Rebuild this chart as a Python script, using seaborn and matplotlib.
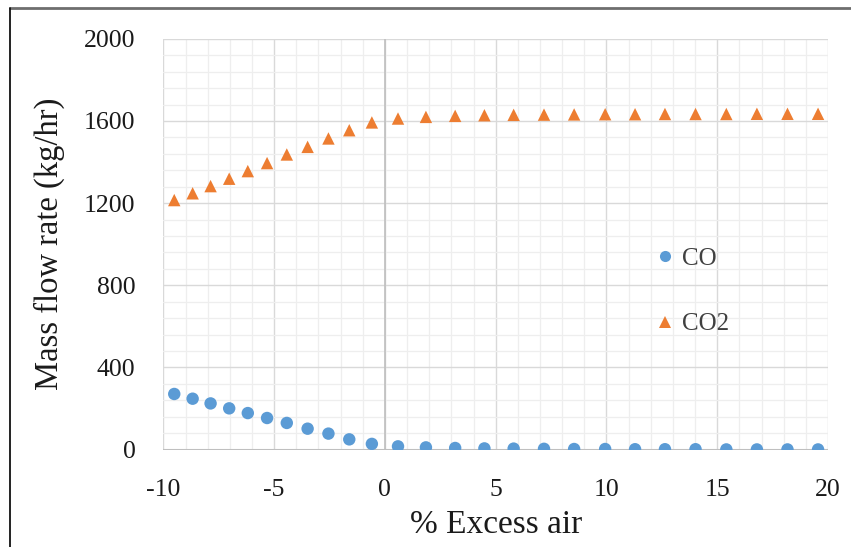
import matplotlib
matplotlib.use("Agg")
import matplotlib.pyplot as plt
from matplotlib.lines import Line2D
from matplotlib.ticker import MultipleLocator
import pandas as pd
import seaborn as sns

# values
excess_air = [-9.51, -8.68, -7.87, -7.03, -6.19, -5.32, -4.43, -3.49, -2.55, -1.61,
              -0.59, 0.59, 1.85, 3.17, 4.49, 5.81, 7.18, 8.54, 9.94, 11.29,
              12.64, 14.02, 15.41, 16.79, 18.17, 19.55]
co_flow = [271, 248, 225, 201, 178, 154, 130, 102, 78, 50,
           28, 16, 11, 8, 6, 5, 4, 3, 3, 2,
           2, 2, 1, 1, 1, 1]
co2_flow = [1215, 1248, 1283, 1319, 1356, 1395, 1437, 1474, 1515, 1555,
            1593, 1612, 1620, 1625, 1628, 1630, 1631, 1632, 1633, 1633,
            1634, 1634, 1634, 1635, 1635, 1635]
species = ["CO", "CO2"]
x_ticks = [-10, -5, 0, 5, 10, 15, 20]
y_ticks = [0, 400, 800, 1200, 1600, 2000]

df = pd.concat([
    pd.DataFrame({"x": excess_air, "y": co_flow, "gas": "CO"}),
    pd.DataFrame({"x": excess_air, "y": co2_flow, "gas": "CO2"}),
])

sns.set_theme(style="white")
plt.rcParams["font.family"] = ["Liberation Serif", "DejaVu Serif"]
plt.rcParams["axes.unicode_minus"] = False

fig = plt.figure(figsize=(8.51, 5.47), dpi=100)
ax = fig.add_axes([0.192, 0.178, 0.781, 0.751])

palette = {"CO": "#5B9BD5", "CO2": "#ED7D31"}
markers = {"CO": "o", "CO2": "^"}
sns.scatterplot(data=df, x="x", y="y", hue="gas", style="gas", hue_order=species,
                style_order=species, palette=palette, markers=markers, s=80,
                linewidth=0, ax=ax, zorder=3, legend=False)

ax.set_xlim(-10, 20)
ax.set_ylim(0, 2000)
ax.set_xticks(x_ticks)
ax.set_yticks(y_ticks)
ax.xaxis.set_minor_locator(MultipleLocator(1))
ax.yaxis.set_minor_locator(MultipleLocator(80))
ax.grid(which="major", color="#d9d9d9", linewidth=1.0)
ax.grid(which="minor", color="#eeeeee", linewidth=0.9)
ax.set_axisbelow(True)
for s in ax.spines.values():
    s.set_visible(False)
# value axis line crosses at x = 0, category axis at y = 0
ax.axvline(0, color="#bfbfbf", linewidth=1.2, zorder=1)
ax.axhline(0, color="#bfbfbf", linewidth=1.5, zorder=1)

ax.tick_params(which="both", length=0, labelsize=18.5, colors="#1a1a1a")
ax.tick_params(axis="y", pad=20)
ax.tick_params(axis="x", pad=21)
ax.set_xlabel("% Excess air", fontsize=24, color="#1a1a1a", labelpad=6)
ax.set_ylabel("Mass flow rate (kg/hr)", fontsize=23.5, color="#1a1a1a", labelpad=14)

handles = [Line2D([], [], linestyle="none", marker=markers[g], color=palette[g],
                  markersize=8, markeredgewidth=0) for g in species]
ax.legend(handles, species, loc="center left", bbox_to_anchor=(0.699, 0.385),
          frameon=False, fontsize=18, labelspacing=1.72, handletextpad=0.05,
          handlelength=1.2, labelcolor="#404040")

# outer frame lines of the source image
fig.add_artist(Line2D([10 / 851, 1], [1 - 7.5 / 547, 1 - 7.5 / 547],
                      color="#6e6e6e", linewidth=2.0))
fig.add_artist(Line2D([10 / 851, 10 / 851], [0, 1 - 7.5 / 547],
                      color="#111111", linewidth=1.3))

fig.savefig("out.png", dpi=100)
